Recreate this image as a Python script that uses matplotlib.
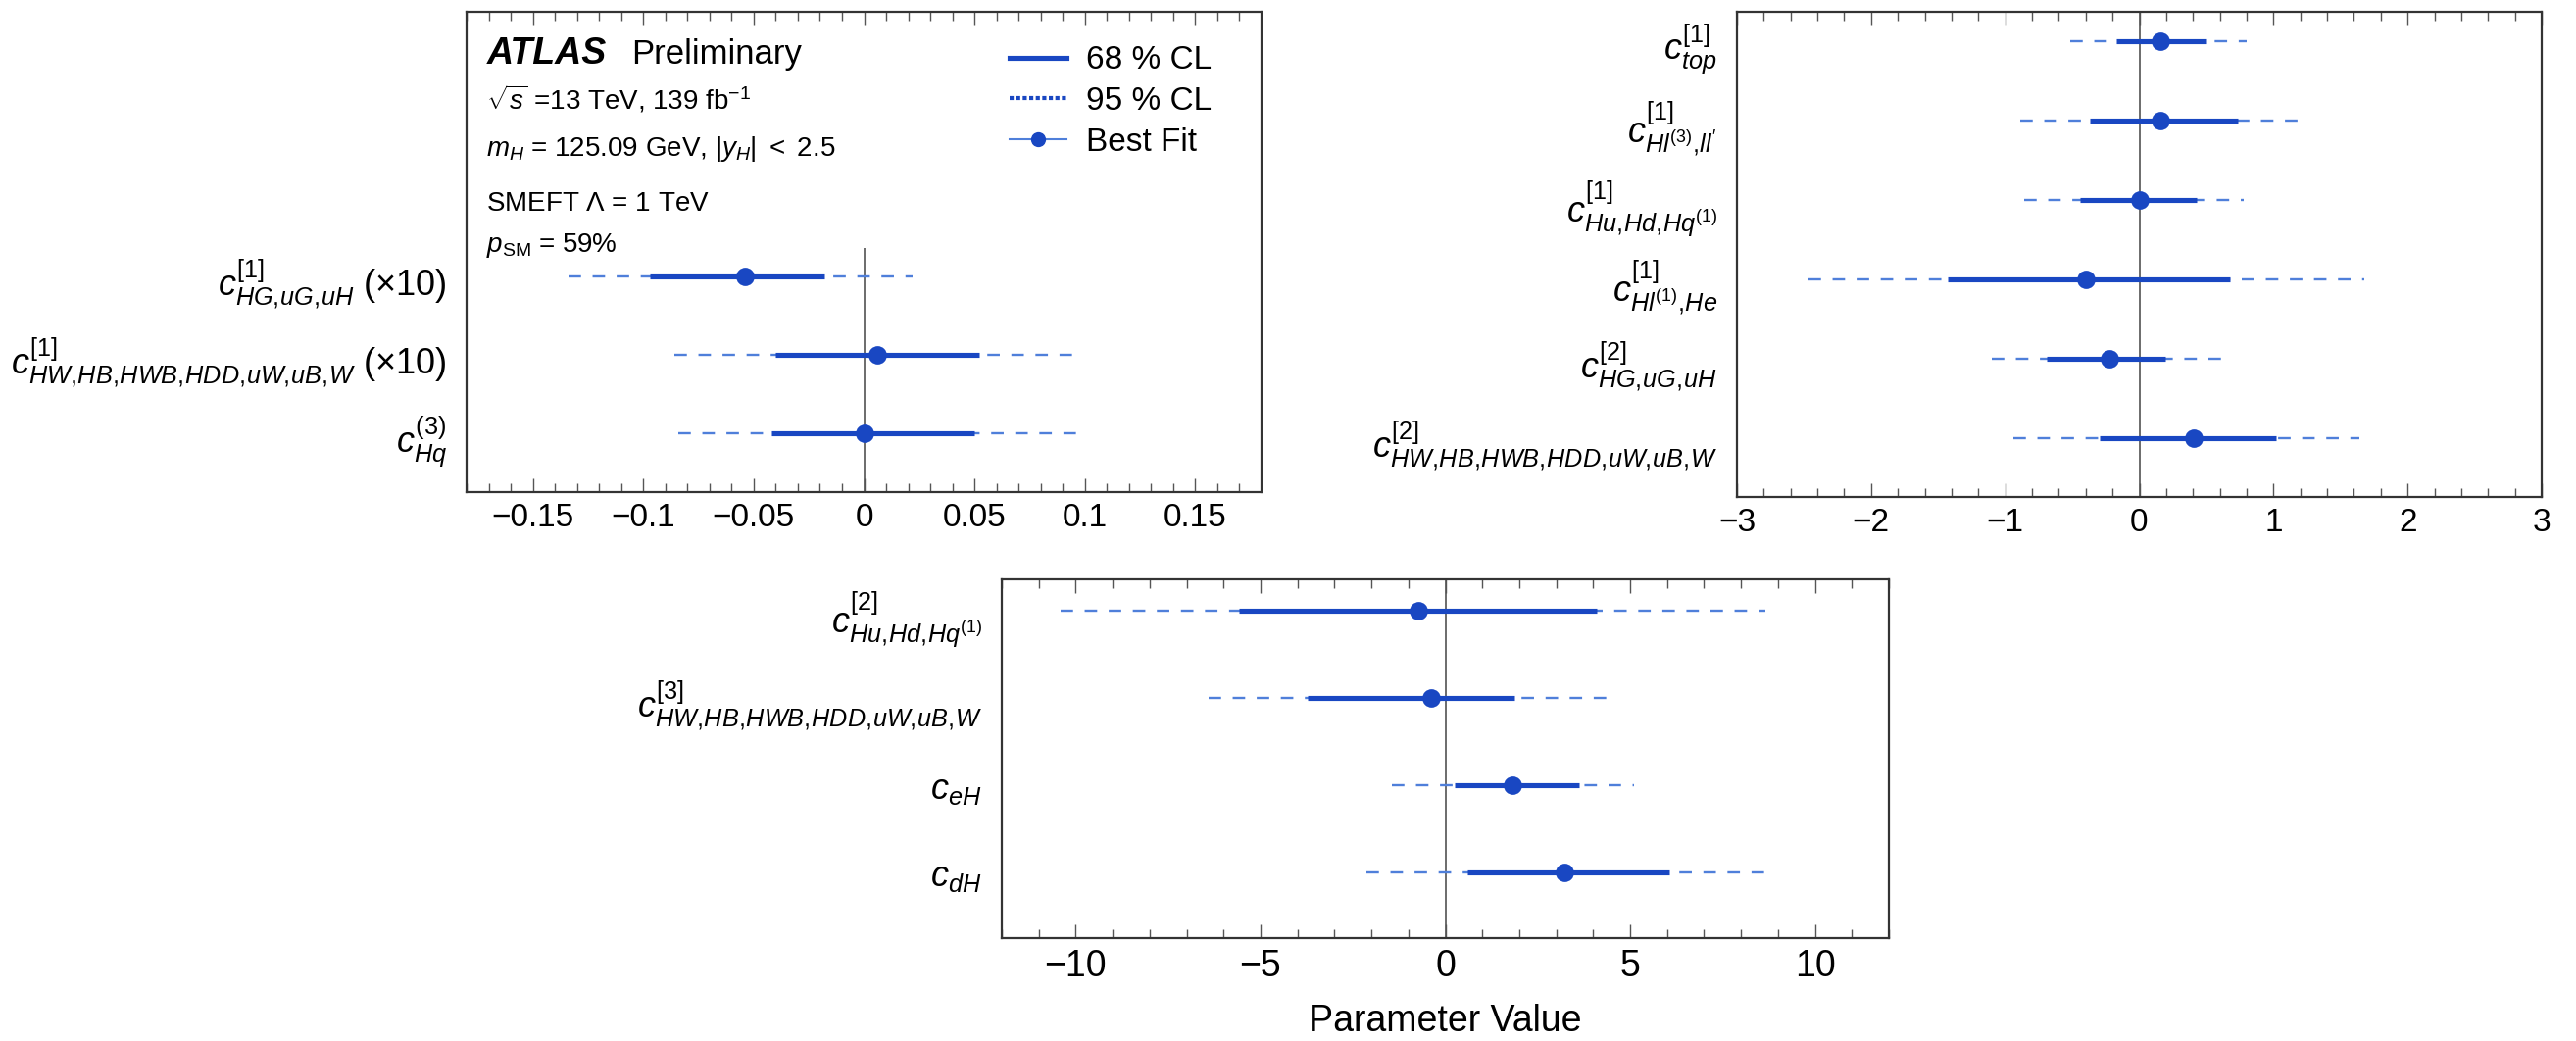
import numpy as np
import matplotlib
matplotlib.use('Agg')
import matplotlib.pyplot as plt
from matplotlib.lines import Line2D
from matplotlib.ticker import MultipleLocator, FuncFormatter

plt.rcParams['font.family'] = ['Liberation Sans', 'DejaVu Sans']
plt.rcParams['mathtext.fontset'] = 'custom'
plt.rcParams['mathtext.rm'] = 'Liberation Sans'
plt.rcParams['mathtext.it'] = 'Liberation Sans:italic'
plt.rcParams['mathtext.bf'] = 'Liberation Sans:bold'

# panel 1 (top left), rows listed top to bottom
labels1 = [r'$c^{[1]}_{HG,uG,uH}\ (\times10)$',
           r'$c^{[1]}_{HW,HB,HWB,HDD,uW,uB,W}\ (\times10)$',
           r'$c^{(3)}_{Hq}$']
best1 = [-0.054, 0.006, 0.0]
lo68_1 = [-0.097, -0.040, -0.042]
hi68_1 = [-0.018, 0.052, 0.050]
lo95_1 = [-0.134, -0.086, -0.084]
hi95_1 = [0.022, 0.097, 0.098]

# panel 2 (top right)
labels2 = [r'$c^{[1]}_{top}$',
           r"$c^{[1]}_{Hl^{(3)},ll^{\prime}}$",
           r'$c^{[1]}_{Hu,Hd,Hq^{(1)}}$',
           r'$c^{[1]}_{Hl^{(1)},He}$',
           r'$c^{[2]}_{HG,uG,uH}$',
           r'$c^{[2]}_{HW,HB,HWB,HDD,uW,uB,W}$']
best2 = [0.155, 0.155, 0.0, -0.397, -0.223, 0.403]
lo68_2 = [-0.174, -0.366, -0.44, -1.426, -0.694, -0.298]
hi68_2 = [0.502, 0.738, 0.428, 0.676, 0.192, 1.023]
lo95_2 = [-0.515, -0.887, -0.862, -2.467, -1.097, -0.942]
hi95_2 = [0.80, 1.221, 0.775, 1.674, 0.632, 1.643]

# panel 3 (bottom)
labels3 = [r'$c^{[2]}_{Hu,Hd,Hq^{(1)}}$',
           r'$c^{[3]}_{HW,HB,HWB,HDD,uW,uB,W}$',
           r'$c_{eH}$',
           r'$c_{dH}$']
best3 = [-0.74, -0.38, 1.81, 3.21]
lo68_3 = [-5.58, -3.73, 0.26, 0.59]
hi68_3 = [4.09, 1.88, 3.63, 6.06]
lo95_3 = [-10.40, -6.41, -1.45, -2.14]
hi95_3 = [8.67, 4.51, 5.11, 8.79]

C68 = '#1947c2'
C95 = '#4f7fda'
W, H = 2628, 1062


def box(x0, y0, x1, y1):
    return [x0 / W, 1 - y1 / H, (x1 - x0) / W, (y1 - y0) / H]


def fmt(v, pos):
    if abs(v) < 1e-9:
        return '0'
    return f'{round(v, 6):g}'.replace('-', '\u2212')


def draw_panel(ax, labels, best, lo68, hi68, lo95, hi95, xlim, ylim,
               major, minor, tsize, zero_top=None):
    n = len(labels)
    y = np.arange(n, 0, -1)
    if zero_top is None:
        ax.axvline(0, color='#444444', lw=1.1, zorder=1)
    else:
        ax.vlines(0, ylim[0], zero_top, color='#444444', lw=1.1, zorder=1)
    ax.hlines(y, lo95, hi95, colors=C95, lw=1.7, linestyles=(0, (5.4, 5.0)), zorder=2)
    ax.hlines(y, lo68, hi68, colors=C68, lw=3.7, zorder=3)
    ax.plot(best, y, 'o', color=C68, ms=13.5, mec='none', zorder=4)
    ax.set_xlim(*xlim)
    ax.set_ylim(*ylim)
    ax.set_yticks(y)
    # tighter commas in the subscripts, as in the original
    ax.set_yticklabels([s.replace(',', r',\!') for s in labels])
    ax.xaxis.set_major_locator(MultipleLocator(major))
    ax.xaxis.set_minor_locator(MultipleLocator(minor))
    ax.xaxis.set_major_formatter(FuncFormatter(fmt))
    ax.tick_params(axis='x', which='both', direction='in', top=True, bottom=True,
                   color='#555555', width=1.0, labelsize=tsize, pad=8)
    ax.tick_params(axis='x', which='major', length=10)
    ax.tick_params(axis='x', which='minor', length=6.5)
    ax.tick_params(axis='y', which='both', left=False, right=False,
                   labelsize=26, pad=11)
    for sp in ax.spines.values():
        sp.set_linewidth(1.6)
        sp.set_color('#333333')


fig = plt.figure(figsize=(W / 100, H / 100), dpi=100)
ax1 = fig.add_axes(box(476, 12, 1287, 502))
ax2 = fig.add_axes(box(1772, 12, 2593, 507))
ax3 = fig.add_axes(box(1022, 591, 1927, 957))

draw_panel(ax1, labels1, best1, lo68_1, hi68_1, lo95_1, hi95_1,
           (-0.18, 0.18), (0.25, 6.375), 0.05, 0.01, 24, zero_top=3.36)
draw_panel(ax2, labels2, best2, lo68_2, hi68_2, lo95_2, hi95_2,
           (-3, 3), (0.26, 6.37), 1, 0.2, 24)
draw_panel(ax3, labels3, best3, lo68_3, hi68_3, lo95_3, hi95_3,
           (-12, 12), (0.25, 4.36), 5, 1, 27)
ax3.set_xlabel('Parameter Value', fontsize=27, labelpad=14)

# ATLAS label block
ax1.text(0.025, 0.892, 'ATLAS', transform=ax1.transAxes, fontsize=27,
         fontweight='bold', fontstyle='italic')
ax1.text(0.207, 0.892, 'Preliminary', transform=ax1.transAxes, fontsize=25)
info = [r'$\sqrt{s}$ =13 TeV, 139 fb$^{-1}$',
        r'$m_H$ = 125.09 GeV, $|y_H|\ <\ 2.5$',
        r'SMEFT $\Lambda$ = 1 TeV',
        r'$p_{\mathrm{SM}}$ = 59%']
for txt, yy in zip(info, [0.796, 0.700, 0.586, 0.500]):
    ax1.text(0.025, yy, txt, transform=ax1.transAxes, fontsize=20)

handles = [Line2D([], [], color=C68, lw=3.7),
           Line2D([], [], color=C68, lw=3.0, ls=(0, (1.0, 0.6))),
           Line2D([], [], color=C95, lw=1.5, marker='o', ms=11,
                  mfc=C68, mec='none')]
ax1.legend(handles, ['68 % CL', '95 % CL', 'Best Fit'], loc='upper left',
           bbox_to_anchor=(0.683, 0.93), frameon=False, fontsize=24,
           handlelength=1.75, handletextpad=0.6, labelspacing=0.32,
           borderpad=0, borderaxespad=0)

fig.savefig('out.png', dpi=100)
